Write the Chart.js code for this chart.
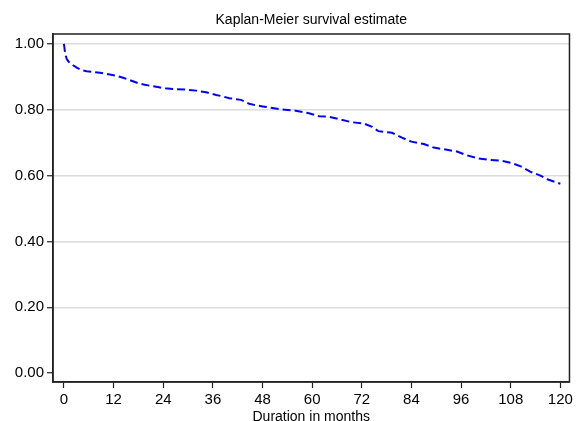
<!DOCTYPE html>
<html lang="en">
<head>
    <meta charset="UTF-8">
    <title>Kaplan-Meier survival estimate</title>
    <script src="https://cdn.jsdelivr.net/npm/chart.js"></script>
    <style>
        html, body { margin: 0; padding: 0; background: #fff; overflow: hidden; }
        canvas { display: block; }
    </style>
</head>
<body>
    <canvas id="kmChart" width="576" height="421"></canvas>

    <script>
        // analysis time (months) and survivor function
        const months = [0, 0.3, 0.7, 1.2, 2.2, 3.2, 4.3, 5.5, 7, 8.7, 10.3, 12, 13, 14.3, 15.5, 17, 18.3, 19.5,
            20.7, 23, 24.5, 26.3, 29.6, 32, 34.4, 36.8, 38.5, 40, 42.8, 44.8, 46.5, 48, 50, 52, 56, 59,
            61.7, 64, 67, 69.6, 72.5, 74.5, 76, 79.3, 81.7, 84, 87, 89.4, 92.3, 95, 97.3, 99.8, 102.6,
            105.8, 108.2, 110.6, 112.7, 115.2, 117, 120];
        const survival = [1.00, 0.97, 0.953, 0.945, 0.935, 0.927, 0.92, 0.917, 0.915, 0.912, 0.909, 0.905, 0.902,
            0.897, 0.892, 0.885, 0.879, 0.876, 0.873, 0.868, 0.865, 0.863, 0.861, 0.858, 0.853, 0.845, 0.84,
            0.835, 0.83, 0.818, 0.813, 0.81, 0.806, 0.802, 0.797, 0.79, 0.78, 0.779, 0.77, 0.762, 0.758,
            0.748, 0.735, 0.73, 0.715, 0.703, 0.696, 0.685, 0.679, 0.673, 0.662, 0.653, 0.648, 0.645, 0.638,
            0.627, 0.612, 0.6, 0.588, 0.575];

        // axis ticks
        const xTicks = [0, 12, 24, 36, 48, 60, 72, 84, 96, 108, 120];
        const yTicks = [0, 0.2, 0.4, 0.6, 0.8, 1.0];

        const FONT = 'Liberation Sans, Arial, sans-serif';

        // frame round the plot region
        const frame = {
            id: 'frame',
            afterDraw(chart) {
                const { ctx, chartArea: a } = chart;
                ctx.save();
                ctx.strokeStyle = '#222';
                ctx.lineWidth = 1.5;
                ctx.strokeRect(a.left, a.top, a.right - a.left, a.bottom - a.top);
                ctx.restore();
            }
        };

        new Chart(document.getElementById('kmChart'), {
            type: 'line',
            data: {
                datasets: [{
                    data: months.map((m, i) => ({ x: m, y: survival[i] })),
                    borderColor: '#0000ff',
                    borderWidth: 2,
                    borderDash: [8, 4],
                    tension: 0,
                    pointRadius: 0,
                    fill: false
                }]
            },
            options: {
                responsive: false,
                animation: false,
                layout: { padding: { left: 0, right: 5, top: 0, bottom: 0 } },
                plugins: {
                    legend: { display: false },
                    tooltip: { enabled: false },
                    title: {
                        display: true,
                        text: 'Kaplan-Meier survival estimate',
                        fullSize: false,
                        color: '#000',
                        font: { family: FONT, size: 14, weight: 'normal', lineHeight: 1.2 },
                        padding: { top: 11.6, bottom: 5.6 }
                    }
                },
                scales: {
                    x: {
                        type: 'linear',
                        min: -2.65,
                        max: 122.2,
                        afterBuildTicks: s => { s.ticks = xTicks.map(v => ({ value: v })); },
                        afterFit: s => { s.height = 39; },
                        grid: { drawOnChartArea: false, drawTicks: true, tickLength: 6, tickColor: '#222', tickWidth: 1.2 },
                        border: { color: '#222', width: 1.5 },
                        ticks: { color: '#000', padding: 3, maxRotation: 0, font: { family: FONT, size: 15 } },
                        title: {
                            display: true,
                            text: 'Duration in months',
                            color: '#000',
                            font: { family: FONT, size: 14, lineHeight: 1 },
                            padding: { top: 0, bottom: -3 }
                        }
                    },
                    y: {
                        min: -0.027,
                        max: 1.030,
                        afterBuildTicks: s => { s.ticks = yTicks.map(v => ({ value: v })); },
                        afterFit: s => { s.width = 53; },
                        grid: {
                            color: c => (c.tick && c.tick.value === 0 ? 'rgba(0,0,0,0)' : '#dcdcdc'),
                            lineWidth: 1.5,
                            drawTicks: true,
                            tickLength: 6,
                            tickColor: '#222',
                            tickWidth: 1.2
                        },
                        border: { color: '#222', width: 1.5 },
                        ticks: {
                            color: '#000',
                            padding: 3,
                            font: { family: FONT, size: 15 },
                            callback: v => v.toFixed(2)
                        }
                    }
                }
            },
            plugins: [frame]
        });
    </script>
</body>
</html>
